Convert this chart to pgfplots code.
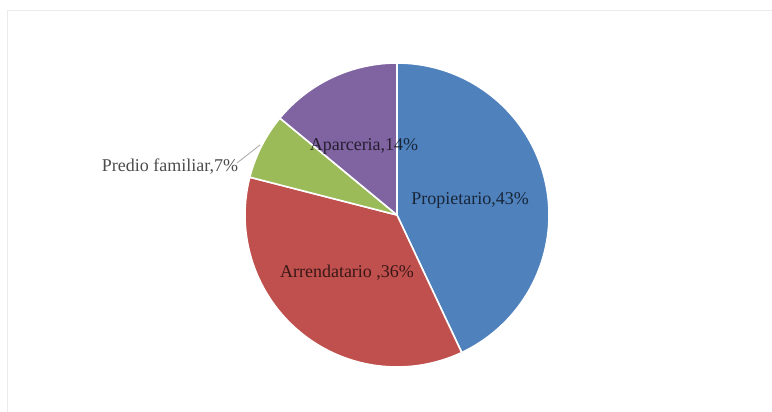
\documentclass[border=0pt]{standalone}
\usepackage{pgfplots}
\usepackage{pgfplotstable}
\usepackage{fontspec}
\setmainfont{Liberation Serif}
\pgfplotsset{compat=1.18}
\definecolor{pblue}{HTML}{4F81BD}
\definecolor{pred}{HTML}{C0504D}
\definecolor{pgreen}{HTML}{9BBB59}
\definecolor{ppurple}{HTML}{8064A2}
\pgfplotstableread[col sep=comma]{
label,value,color
Propietario,43,pblue
Arrendatario,36,pred
Predio familiar,7,pgreen
Aparceria,14,ppurple
}\piedata
\begin{document}
\begin{tikzpicture}
\begin{axis}[
  scale only axis, width=772bp, height=412bp,
  xmin=0, xmax=772, ymin=0, ymax=412,
  hide axis, clip=true,
]
\draw[color=black!8, line width=1bp] (axis cs:7,0) -- (axis cs:7,401) -- (axis cs:772,401);
\pgfplotstablegetrowsof{\piedata}
\pgfmathtruncatemacro{\nrows}{\pgfplotsretval-1}
\def\cum{0}
\pgfplotsforeachungrouped \i in {0,...,\nrows}{
  \pgfplotstablegetelem{\i}{value}\of{\piedata}\let\v\pgfplotsretval
  \pgfplotstablegetelem{\i}{color}\of{\piedata}\let\c\pgfplotsretval
  \pgfmathsetmacro{\a}{90-3.6*\cum}
  \pgfmathsetmacro{\b}{90-3.6*(\cum+\v)}
  \edef\temp{\noexpand\addplot[fill=\c, draw=white, line width=1.6bp, line join=round, domain=\b:\a, samples=90]
     ({397+152*cos(x)},{197+152*sin(x)}) -- (axis cs:397,197) -- cycle;}
  \temp
  \pgfmathsetmacro{\cum}{\cum+\v}
}
\draw[color=black!35, line width=0.8bp] (axis cs:237,249) -- (axis cs:260,267);
\begin{scope}[every node/.style={font=\fontsize{18bp}{20bp}\selectfont, text=black, text opacity=0.7, inner sep=0pt}]
\node at (axis cs:470,212) {Propietario,43\%};
\node at (axis cs:347,139) {Arrendatario ,36\%};
\node at (axis cs:170,245) {Predio familiar,7\%};
\node at (axis cs:364,266) {Aparceria,14\%};
\end{scope}
\end{axis}
\path (current axis.south west) rectangle (current axis.north east);
\end{tikzpicture}
\end{document}
